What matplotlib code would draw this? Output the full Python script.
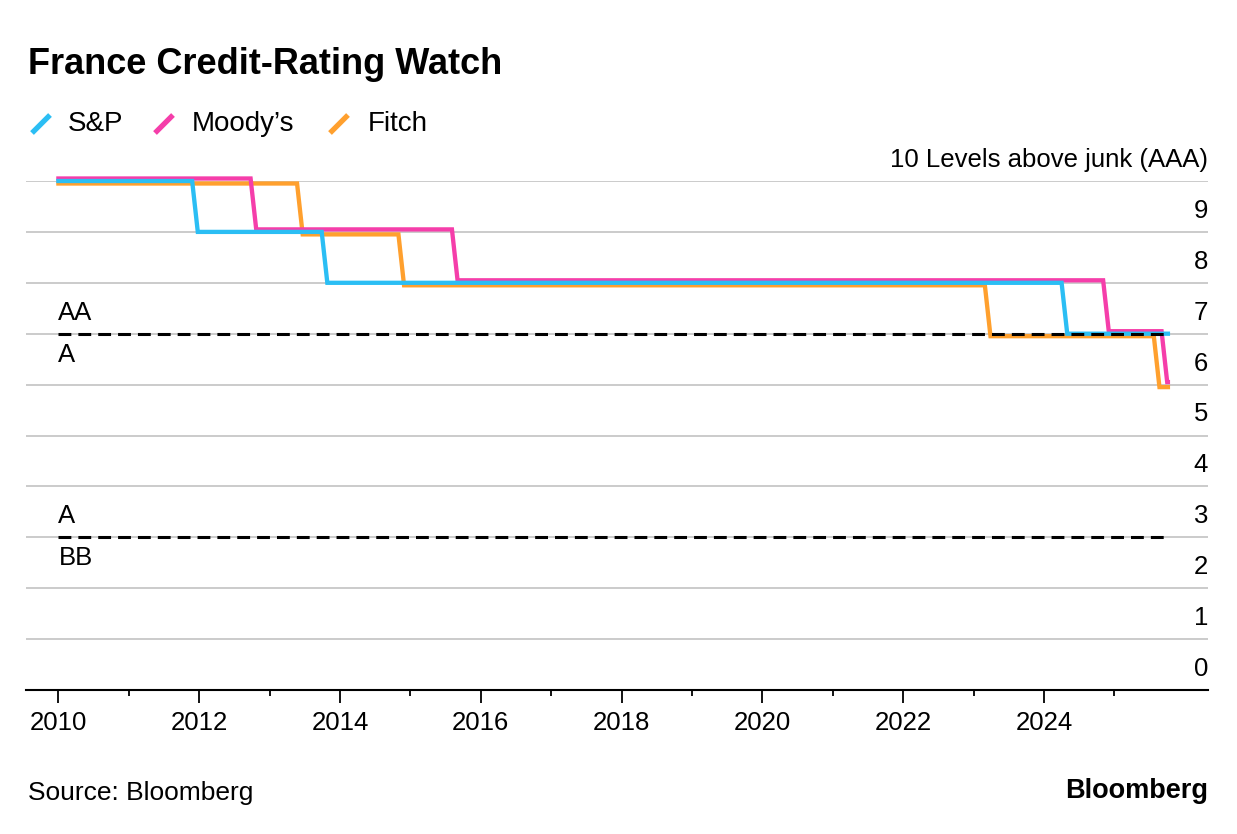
import matplotlib

matplotlib.use("Agg")
import matplotlib.pyplot as plt
import matplotlib.transforms as mtransforms
from matplotlib.lines import Line2D
from matplotlib.ticker import FixedLocator

plt.rcParams["font.family"] = ["Liberation Sans", "DejaVu Sans"]

# rating levels above junk, with the dates each agency changed them
sp_changes = [2011.90, 2013.74, 2024.25]
sp_levels = [10, 9, 8, 7]
moodys_changes = [2012.73, 2015.59, 2024.84, 2025.67]
moodys_levels = [10, 9, 8, 7, 6]
fitch_changes = [2013.39, 2014.83, 2023.16, 2025.56]
fitch_levels = [10, 9, 8, 7, 6]
series_start = 2010.0
series_end = 2025.76

# boundaries between rating bands
band_lines = [7, 3]
band_labels = [("AA", "A"), ("A", "BB")]

y_levels = list(range(0, 10))
x_major = list(range(2010, 2026, 2))
x_minor = list(range(2010, 2026))

COLORS = {"S&P": "#2bbef4", "Moody's": "#f53eaa", "Fitch": "#ffa02e"}
GRID = "#cbcbcb"
STEP = 0.08  # width of the drawn transition between two monthly points


def step_path(changes, levels):
    xs = [series_start]
    ys = [levels[0]]
    for date, before, after in zip(changes, levels[:-1], levels[1:]):
        xs += [date, date + STEP]
        ys += [before, after]
    xs.append(series_end)
    ys.append(levels[-1])
    return xs, ys


def px_shift(dx, dy):
    return mtransforms.ScaledTranslation(dx / 100, dy / 100, fig.dpi_scale_trans)


fig = plt.figure(figsize=(12.37, 8.34), dpi=100)
W, H = 1237, 834
ax = fig.add_axes([26 / W, 1 - 690 / H, (1208 - 26) / W, (690 - 181) / H])
ax.set_xlim(2010 + (26 - 58.4) / 70.4, 2010 + (1208 - 58.4) / 70.4)
ax.set_ylim(0, 10)

for level in range(1, 11):
    ax.axhline(level, color=GRID, lw=1.4, zorder=1)

for spine in ["left", "right", "top"]:
    ax.spines[spine].set_visible(False)
ax.spines["bottom"].set_linewidth(1.5)
ax.spines["bottom"].set_zorder(5)

ax.set_yticks([])
ax.set_xticks(x_major)
ax.set_xticklabels([str(x) for x in x_major], fontsize=18.5)
ax.xaxis.set_minor_locator(FixedLocator(x_minor))
ax.tick_params(axis="x", which="major", length=9.4, width=1.3, pad=6)
ax.tick_params(axis="x", which="minor", length=4.3, width=1.3)

# small pixel offsets so overlapping ratings stay visible
series = [
    ("Fitch", fitch_changes, fitch_levels, -2.5),
    ("Moody's", moodys_changes, moodys_levels, 2.5),
    ("S&P", sp_changes, sp_levels, 0.0),
]
for name, changes, levels, dy in series:
    xs, ys = step_path(changes, levels)
    ax.plot(xs, ys, color=COLORS[name], lw=3.1, solid_joinstyle="miter",
            transform=ax.transData + px_shift(0, dy), clip_on=False, zorder=3)

for level, (above, below) in zip(band_lines, band_labels):
    ax.plot([series_start, series_end], [level, level], color="black", lw=2.2,
            dashes=(4.2, 2.3), zorder=4)
    ax.text(series_start, level, above, fontsize=18.5, ha="left", va="center",
            transform=ax.transData + px_shift(0, 21))
    ax.text(series_start, level, below, fontsize=18.5, ha="left", va="center",
            transform=ax.transData + px_shift(0, -21))

# right-hand level labels sit just above their gridlines
blend = mtransforms.blended_transform_factory(ax.transAxes, ax.transData)
for level in y_levels:
    ax.text(1.0, level, str(level), fontsize=18.5, ha="right", va="baseline",
            transform=blend + px_shift(0, 14))
ax.text(1.0, 10, "10 Levels above junk (AAA)", fontsize=18.5, ha="right",
        va="baseline", transform=blend + px_shift(0, 14))

fig.text(28 / W, 1 - 74 / H, "France Credit-Rating Watch", fontsize=26,
         fontweight="bold", ha="left", va="baseline")

legend_items = [("S&P", 31, 68), ("Moody's", 154, 192), ("Fitch", 329, 368)]
for name, mark_x, text_x in legend_items:
    fig.add_artist(Line2D([(mark_x + 1) / W, (mark_x + 19) / W],
                          [1 - 133 / H, 1 - 115 / H], color=COLORS[name],
                          lw=3.8, solid_capstyle="butt"))
    fig.text(text_x / W, 1 - 131 / H, name.replace("'", "\u2019"), fontsize=20,
             ha="left", va="baseline")

fig.text(28 / W, 1 - 800 / H, "Source: Bloomberg", fontsize=19,
         ha="left", va="baseline")
fig.text(1208 / W, 1 - 798 / H, "Bloomberg", fontsize=19.5, fontweight="bold",
         ha="right", va="baseline")

fig.savefig("out.png", dpi=100, facecolor="white")
